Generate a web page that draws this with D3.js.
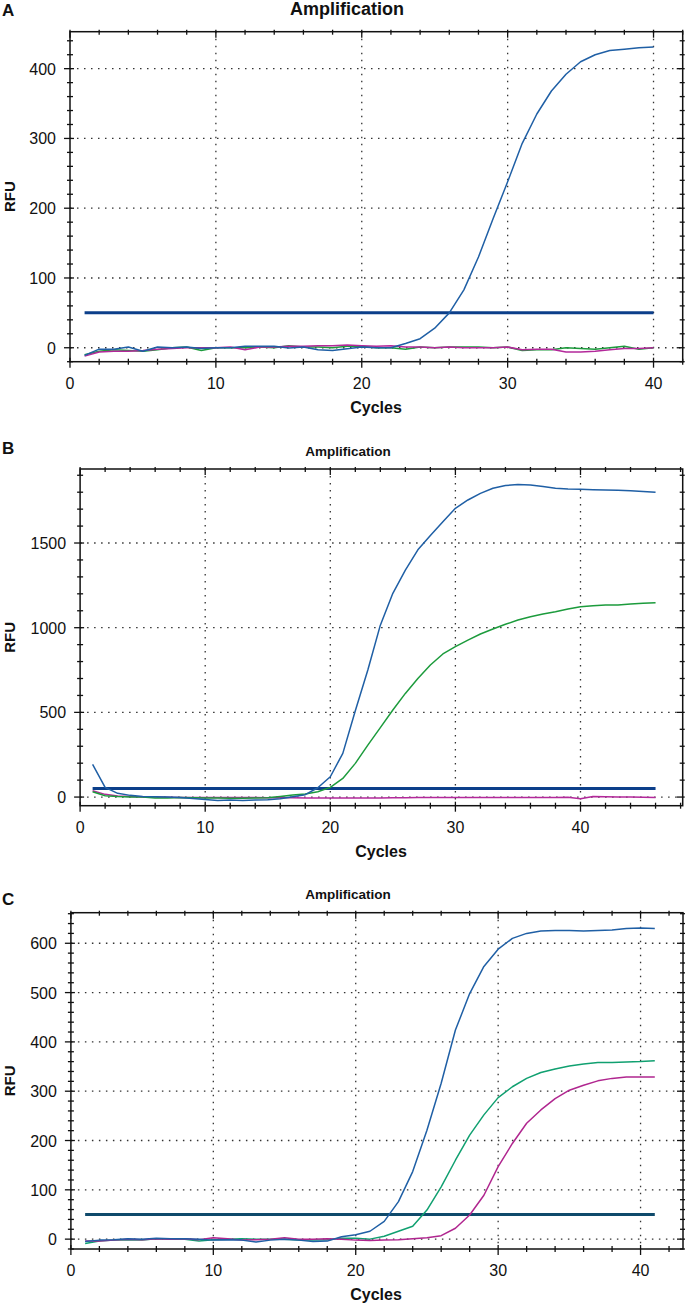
<!DOCTYPE html>
<html><head><meta charset="utf-8">
<script src="https://cdn.jsdelivr.net/npm/d3@7"></script>
<style>
html,body{margin:0;padding:0;background:#fff;}
svg{display:block;font-family:"Liberation Sans",Arial,Helvetica,sans-serif;}
</style></head>
<body>
<svg id="chart" width="685" height="1306"></svg>
<script>
// ---------- DATA ----------
const threshold = 50;

// Panel A (cycles 1..40)
const aCycles = d3.range(1, 41);
const aBlue = [-11,-2,-2,1,-5,1,0,1,-1,0, 0,2,2,2,-0.5,1,-3,-4,-1.5,1, 0,0,6,13,28,50,83,130,185,238, 293,335,368,392,410,420,426,428,430,431];
const aGreen = [-10,-5,-3,-4,-5,-3,0,1,-4,0, 0,0,1,0,3,1,1,0,2,2, 0,0,-2,1,0,1,1,1,0,1, -4,-3,-3,0,-1,-2,0,2,-2,0];
const aMagenta = [-12,-6,-5,-5,-4,-2,-1,0,0,0, 1,-3,1,1,2,2,3,3,4,3, 2,3,1,1,0,1,0,0,0,1, -3,-2,-2,-6,-6,-5,-3,-1,-1,0];
const aXTicks = [0,10,20,30,40];
const aYTicks = [0,100,200,300,400];

// Panel B (cycles 1..46)
const bCycles = d3.range(1, 47);
const bBlue = [193,57,22,10,4,2,0,-2,-8,-14, -20,-18,-20,-18,-16,-10,2,14,55,120, 258,510,750,1015,1203,1340,1460,1545,1626,1705, 1754,1793,1823,1839,1846,1843,1833,1823,1819,1817, 1815,1813,1811,1808,1804,1799];
const bGreen = [31,8,3,1,0,-6,-5,-3,-4,-5, -6,-7,-7,-6,-4,4,12,18,31,57, 110,199,307,410,514,612,700,780,845,888, 927,963,992,1020,1045,1065,1081,1094,1110,1124, 1130,1134,1134,1140,1144,1148];
const bMagenta = [37,16,6,3,1,0,-1,-2,-2,-3, -3,-3,-2,-3,-4,-3,-4,-5,-5,-6, -5,-5,-6,-5,-4,-4,-3,-3,-2,-2, -2,-3,-3,-3,-2,-3,-2,-2,-1,-10, 3,2,1,0,-1,-3];
const bXTicks = [0,10,20,30,40];
const bYTicks = [0,500,1000,1500];

// Panel C (cycles 1..41)
const cCycles = d3.range(1, 42);
const cBlue = [-5,-2,-1,1,0,2,1,1,0,-2, -1,-2,-6,-2,0,-2,-5,-4,5,9, 16,36,76,137,221,316,424,498,553,588, 610,620,625,626,626,625,626,627,630,631, 630];
const cGreen = [-9,-4,-2,-1,-2,1,0,0,-4,-1, 0,1,0,0,0,-2,-2,-1,2,2, 0,6,16,26,59,106,160,211,252,287, 309,326,338,345,351,355,358,358,359,360, 362];
const cMagenta = [-4,-4,-2,0,-1,1,0,1,-1,3, 1,-2,-1,0,3,0,0,1,0,-2, -3,-2,-1,1,3,7,22,49,89,147, 194,235,262,285,302,312,321,326,329,329, 329];
const cXTicks = [0,10,20,30,40];
const cYTicks = [0,100,200,300,400,500,600];

// ---------- DRAW ----------
const svg = d3.select("#chart");

function panel(p) {
  const g = svg.append("g");
  const x = d3.scaleLinear().domain(p.xDom).range([p.left, p.right]);
  const y = d3.scaleLinear().domain(p.yDom).range([p.bottom, p.top]);

  // grid (dotted)
  g.selectAll(".gx").data(p.xTicks.filter(t => t > p.xDom[0])).join("line")
    .attr("x1", d => x(d)).attr("x2", d => x(d))
    .attr("y1", p.top).attr("y2", p.bottom)
    .attr("stroke", "#333").attr("stroke-width", 1.3).attr("stroke-dasharray", "1.5,5.5");
  g.selectAll(".gy").data(p.yTicks).join("line")
    .attr("y1", d => y(d)).attr("y2", d => y(d))
    .attr("x1", p.left).attr("x2", p.right)
    .attr("stroke", "#333").attr("stroke-width", 1.3).attr("stroke-dasharray", "1.5,5.5");

  // minor + major ticks on all four sides
  const xMinor = d3.range(0, p.xDom[1] + 0.001, 2);
  const yMinor = d3.range(Math.ceil(p.yDom[0] / p.yMinorStep) * p.yMinorStep, p.yDom[1] + 0.001, p.yMinorStep);
  const tickG = g.append("g").attr("stroke", "#111").attr("stroke-width", 1.3);
  xMinor.forEach(t => {
    const major = p.xTicks.includes(t);
    const xx = x(t);
    tickG.append("line").attr("x1", xx).attr("x2", xx)
      .attr("y1", p.bottom - (major ? 4 : 3)).attr("y2", p.bottom + (major ? 6 : 3));
    tickG.append("line").attr("x1", xx).attr("x2", xx)
      .attr("y1", p.top - 2).attr("y2", p.top + (major ? 6 : 3));
  });
  yMinor.forEach(t => {
    const major = p.yTicks.includes(t);
    const yy = y(t);
    tickG.append("line").attr("y1", yy).attr("y2", yy)
      .attr("x1", p.left - (major ? 6 : 3)).attr("x2", p.left + (major ? 4 : 3));
    tickG.append("line").attr("y1", yy).attr("y2", yy)
      .attr("x1", p.right - (major ? 6 : 3)).attr("x2", p.right + 2);
  });

  // frame
  g.append("rect").attr("x", p.left).attr("y", p.top)
    .attr("width", p.right - p.left).attr("height", p.bottom - p.top)
    .attr("fill", "none").attr("stroke", "#111").attr("stroke-width", 1.5);

  // tick labels
  g.selectAll(".xl").data(p.xTicks).join("text")
    .attr("x", d => x(d)).attr("y", p.bottom + 27)
    .attr("text-anchor", "middle").attr("font-size", 16).attr("fill", "#111")
    .text(d => d);
  g.selectAll(".yl").data(p.yTicks).join("text")
    .attr("x", p.left - 14).attr("y", d => y(d) + 6)
    .attr("text-anchor", "end").attr("font-size", 16).attr("fill", "#111")
    .text(d => d);

  // threshold
  g.append("line")
    .attr("x1", x(p.cycles[0])).attr("x2", x(p.cycles[p.cycles.length - 1]))
    .attr("y1", y(threshold)).attr("y2", y(threshold))
    .attr("stroke", p.thColor).attr("stroke-width", 3);

  // series
  const line = d3.line().x((d, i) => x(p.cycles[i])).y(d => y(d));
  p.series.forEach(s => {
    g.append("path").datum(s.values).attr("d", line)
      .attr("fill", "none").attr("stroke", s.color).attr("stroke-width", 1.5)
      .attr("stroke-linejoin", "round");
  });

  // titles
  g.append("text").attr("x", p.titleX).attr("y", p.titleY).attr("text-anchor", "middle")
    .attr("font-size", p.titleSize).attr("font-weight", "bold").attr("fill", "#111").text("Amplification");
  g.append("text").attr("x", 2).attr("y", p.letterY)
    .attr("font-size", 17).attr("font-weight", "bold").attr("fill", "#111").text(p.letter);
  g.append("text").attr("x", p.cyclesX).attr("y", p.bottom + 51).attr("text-anchor", "middle")
    .attr("font-size", 16).attr("font-weight", "bold").attr("fill", "#111").text("Cycles");
  g.append("text").attr("transform", `translate(15,${(p.top + p.bottom) / 2}) rotate(-90)`)
    .attr("text-anchor", "middle")
    .attr("font-size", 15).attr("font-weight", "bold").attr("fill", "#111").text("RFU");
}

const BLUE = "#1f5fa5", GREEN = "#1c9b3c", MAG = "#b3289a";

panel({
  letter: "A", letterY: 16, titleX: 347, titleY: 15, titleSize: 18, cyclesX: 376,
  left: 70, right: 682.7, top: 31.7, bottom: 361.7,
  xDom: [0, 42], yDom: [-20, 453], yMinorStep: 20,
  xTicks: aXTicks, yTicks: aYTicks, cycles: aCycles, thColor: "#0c3f8a",
  series: [{values: aGreen, color: GREEN}, {values: aMagenta, color: MAG}, {values: aBlue, color: BLUE}]
});
panel({
  letter: "B", letterY: 454, titleX: 348, titleY: 456, titleSize: 13.5, cyclesX: 381,
  left: 80.1, right: 682.7, top: 469, bottom: 805.7,
  xDom: [0, 48.17], yDom: [-51, 1937], yMinorStep: 100,
  xTicks: bXTicks, yTicks: bYTicks, cycles: bCycles, thColor: "#0c3f8a",
  series: [{values: bMagenta, color: MAG}, {values: bGreen, color: GREEN}, {values: bBlue, color: BLUE}]
});
panel({
  letter: "C", letterY: 905, titleX: 348, titleY: 899, titleSize: 13.5, cyclesX: 376,
  left: 70.9, right: 683, top: 912.7, bottom: 1249,
  xDom: [0, 42.98], yDom: [-20, 662], yMinorStep: 20,
  xTicks: cXTicks, yTicks: cYTicks, cycles: cCycles, thColor: "#0f4a6b",
  series: [{values: cGreen, color: "#10a070"}, {values: cMagenta, color: "#b0268f"}, {values: cBlue, color: BLUE}]
});
</script>
</body></html>
